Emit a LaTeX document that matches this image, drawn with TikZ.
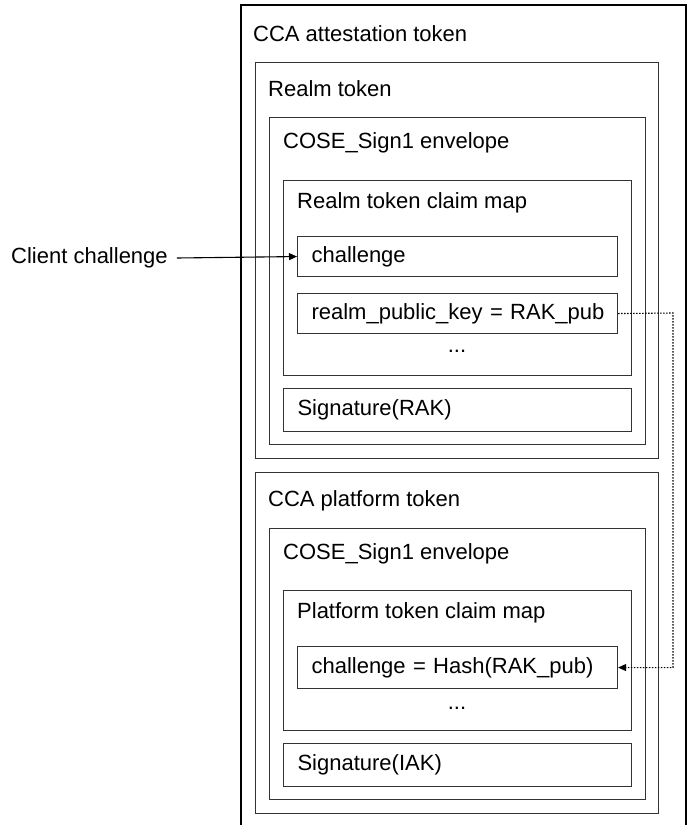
\documentclass[tikz,border=0pt]{standalone}
\usepackage{fontspec}
\setmainfont{Liberation Sans}
\usetikzlibrary{arrows.meta}
\tikzset{
  frame/.style={draw=black!80, line width=1.1pt, rectangle, inner sep=0pt, anchor=north west},
  lbl/.style={anchor=base west, inner sep=0pt, font=\fontsize{22}{26}\selectfont},
  leaf/.style={draw=black!80, line width=1.1pt, rectangle, inner sep=0pt, anchor=north west,
               font=\fontsize{22}{26}\selectfont, minimum width=320pt, text width=306pt, align=left},
  shifted/.style={execute at begin node={\hspace*{7pt}}},
  arr/.style={line width=1.1pt, -{Triangle[length=8pt,width=7pt]}},
  dotlink/.style={line width=1.1pt, dash pattern=on 1.6pt off 1.4pt, -{Triangle[length=8pt,width=7pt]}},
}
\begin{document}
\begin{tikzpicture}[x=1pt,y=-1pt]
\useasboundingbox (0,0) rectangle (693,825);
\fill[white] (0,0) rectangle (693,825);
% outer (open at bottom)
\draw[line width=1.1pt, black] (241,825) -- (241,5) -- (686,5) -- (686,825);
\coordinate (outer) at (241,5);
\node[lbl] (outerlbl) at (253,41) {CCA attestation token};
% realm token
\node[frame, minimum width=403pt, minimum height=396pt] (realm) at (255,62) {};
\node[lbl] (realmlbl) at (268,96) {Realm token};
\node[frame, minimum width=376pt, minimum height=327pt] (cose1) at (269,117) {};
\node[lbl] (cose1lbl) at (283,148) {COSE\_Sign1 envelope};
\node[frame, minimum width=348pt, minimum height=195pt] (claim1) at (283,180) {};
\node[lbl] (claim1lbl) at (297,208) {Realm token claim map};
\node[leaf, shifted, minimum height=40pt] (chal) at (297,236) {challenge};
\node[leaf, shifted, minimum height=40pt] (rpk) at (297,293) {realm\_public\_key = RAK\_pub};
\node[font=\fontsize{22}{26}\selectfont, inner sep=0pt, anchor=base] (dots1) at (457,352) {...};
\node[leaf, minimum width=348pt, text width=320pt, minimum height=43pt] (sigrak) at (283,388) {Signature(RAK)};
% platform token
\node[frame, minimum width=403pt, minimum height=341pt] (plat) at (255,472) {};
\node[lbl] (platlbl) at (268,506) {CCA platform token};
\node[frame, minimum width=376pt, minimum height=271pt] (cose2) at (269,528) {};
\node[lbl] (cose2lbl) at (283,559) {COSE\_Sign1 envelope};
\node[frame, minimum width=348pt, minimum height=140pt] (claim2) at (283,590) {};
\node[lbl] (claim2lbl) at (297,618) {Platform token claim map};
\node[leaf, shifted, minimum height=42pt] (hash) at (297,646) {challenge = Hash(RAK\_pub)};
\node[font=\fontsize{22}{26}\selectfont, inner sep=0pt, anchor=base] (dots2) at (457,709) {...};
\node[leaf, minimum width=348pt, text width=320pt, minimum height=43pt] (sigiak) at (283,743) {Signature(IAK)};
% client challenge
\node[font=\fontsize{22}{26}\selectfont, inner sep=0pt, anchor=west] (client) at (11,258) {Client challenge};
\draw[arr] ([xshift=9pt]client.east) -- (chal.west);
% dotted link
\coordinate (turn) at (673,313);
\draw[dotlink] (rpk.east) -- (turn) |- (hash.east);
\end{tikzpicture}
\end{document}
